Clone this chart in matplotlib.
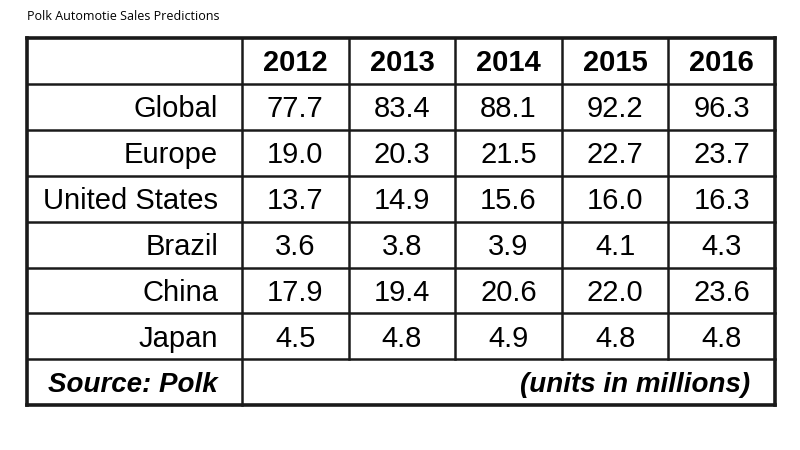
import matplotlib.pyplot as plt
from matplotlib import font_manager

years = ['2012', '2013', '2014', '2015', '2016']
regions = ['Global', 'Europe', 'United States', 'Brazil', 'China', 'Japan']
values = [
    [77.7, 83.4, 88.1, 92.2, 96.3],
    [19.0, 20.3, 21.5, 22.7, 23.7],
    [13.7, 14.9, 15.6, 16.0, 16.3],
    [3.6, 3.8, 3.9, 4.1, 4.3],
    [17.9, 19.4, 20.6, 22.0, 23.6],
    [4.5, 4.8, 4.9, 4.8, 4.8],
]

names = {f.name for f in font_manager.fontManager.ttflist}
narrow = 'Liberation Sans Narrow' if 'Liberation Sans Narrow' in names else 'Liberation Sans'
fam = [narrow, 'DejaVu Sans']

fig = plt.figure(figsize=(8, 4.5), dpi=100)
ax = fig.add_axes([0, 0, 1, 1])
ax.set_xlim(0, 800)
ax.set_ylim(450, 0)
ax.axis('off')

left, right = 27, 775
top, rh = 38, 45.9
xs = [left, 242] + [242 + (right - 242) / 5 * (i + 1) for i in range(5)]
nrows = 8
bottom = top + rh * nrows

fig.text(27 / 800, 1 - 17 / 450, 'Polk Automotie Sales Predictions', fontsize=9,
         family=['Open Sans', 'DejaVu Sans'], va='center')

lw = 1.8
# horizontal lines
for r in range(nrows + 1):
    y = top + rh * r
    ax.plot([left, right], [y, y], color='#1a1a1a', lw=lw + (0.8 if r in (0, nrows) else 0))
# vertical lines
for i, x in enumerate(xs):
    y_end = bottom if i in (0, 1, len(xs) - 1) else top + rh * 7
    ax.plot([x, x], [top, y_end], color='#1a1a1a', lw=lw + (0.8 if i in (0, len(xs) - 1) else 0))

fs = 21
for j, yr in enumerate(years):
    ax.text((xs[j + 1] + xs[j + 2]) / 2, top + rh * 0.55, yr, ha='center', va='center',
            fontsize=fs, fontweight='bold', family=fam)
for i, reg in enumerate(regions):
    yc = top + rh * (i + 1.55)
    ax.text(218, yc, reg, ha='right', va='center', fontsize=fs, family=fam)
    for j, v in enumerate(values[i]):
        ax.text((xs[j + 1] + xs[j + 2]) / 2, yc, f'{v:.1f}', ha='center', va='center',
                fontsize=fs, family=fam)

yc = top + rh * 7.55
ax.text(218, yc, 'Source: Polk', ha='right', va='center', fontsize=fs - 1,
        fontweight='bold', style='italic', family=fam)
ax.text(750, yc, '(units in millions)', ha='right', va='center', fontsize=fs - 1,
        fontweight='bold', style='italic', family=fam)

fig.savefig('out.png', dpi=100)
